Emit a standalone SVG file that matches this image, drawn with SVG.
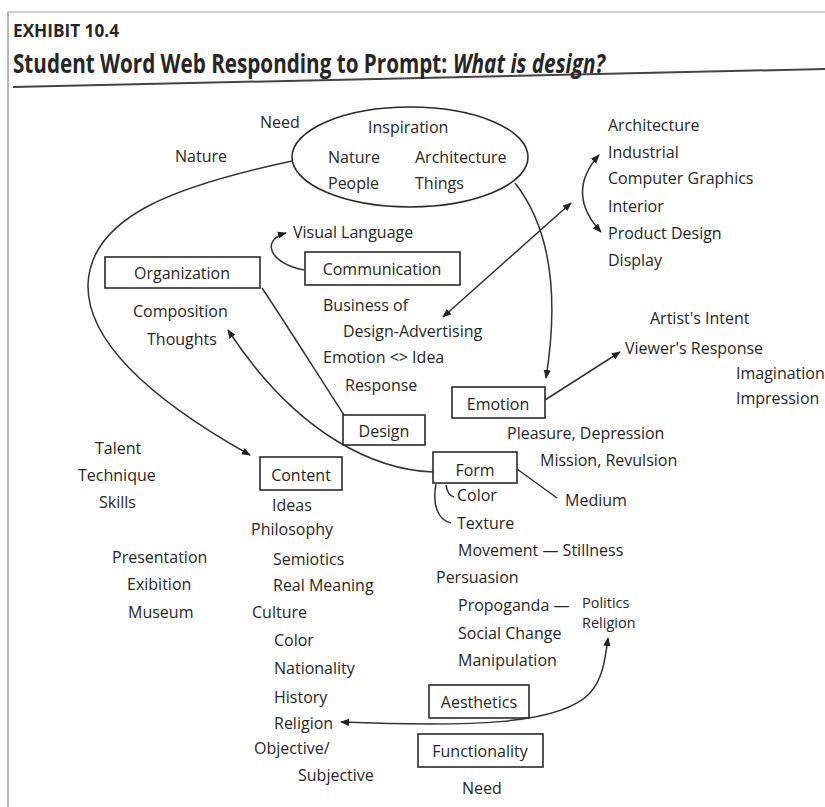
<svg xmlns="http://www.w3.org/2000/svg" width="825" height="807" viewBox="0 0 825 807">
<style>
text{font-family:"Open Sans","Noto Sans",sans-serif;font-size:16px;fill:#262626}
.b{fill:none;stroke:#2a2a2a;stroke-width:1.6}
.c{fill:none;stroke:#333;stroke-width:1.5}
.m{text-anchor:middle}
.t{font-weight:bold;font-size:26px}
</style>
<defs>
<marker id="ah" viewBox="0 0 10 10" refX="9" refY="5" markerWidth="9" markerHeight="9" markerUnits="userSpaceOnUse" orient="auto-start-reverse">
<path d="M0,1 L10,5 L0,9 Z" fill="#222"/>
</marker>
</defs>
<rect width="825" height="807" fill="#fff"/>
<g id="frame">
<line x1="7" y1="12" x2="825" y2="12" stroke="#d0d0d0" stroke-width="2"/>
<line x1="8" y1="12" x2="8" y2="807" stroke="#b8b8b8" stroke-width="2"/>
<line x1="13" y1="87" x2="825" y2="69" stroke="#444" stroke-width="2"/>
</g>
<g id="title">
<text x="13" y="37" style="font-weight:bold;font-size:17px" textLength="106" lengthAdjust="spacingAndGlyphs">EXHIBIT 10.4</text>
<text class="t" transform="matrix(0.816 0 0 1 13 73)" textLength="532" lengthAdjust="spacingAndGlyphs">Student Word Web Responding to Prompt:</text>
<text class="t" transform="matrix(0.8 0 0 1 453 73)" font-style="italic" textLength="190" lengthAdjust="spacingAndGlyphs">What is design?</text>
</g>
<g id="connectors">
<path class="c" d="M292,161 C180,185 90,215 88,285 C87,350 170,410 250,455" marker-end="url(#ah)"/>
<path class="c" d="M515,183 C548,225 560,290 546,378" marker-end="url(#ah)"/>
<path class="c" d="M443,317 L571,203" marker-start="url(#ah)" marker-end="url(#ah)"/>
<path class="c" d="M599,155 Q565,193 601,232" marker-start="url(#ah)" marker-end="url(#ah)"/>
<path class="c" d="M304,270 C270,264 260,240 286,233" marker-end="url(#ah)"/>
<path class="c" d="M262,288 C290,330 318,375 344,415"/>
<path class="c" d="M433,472 C380,470 300,440 228,330" marker-end="url(#ah)"/>
<path class="c" d="M545,400 L620,352" marker-end="url(#ah)"/>
<path class="c" d="M517,469 L557,498"/>
<path class="c" d="M446,485 C447,492 450,496 454,497"/>
<path class="c" d="M436,484 C432,505 438,520 451,523"/>
<path class="c" d="M341,722 C470,727 560,725 590,693 C603,678 605,660 608,638" marker-start="url(#ah)" marker-end="url(#ah)"/>
</g>
<g id="inspiration">
<ellipse class="b" cx="410" cy="157" rx="118" ry="50"/>
<text x="368" y="133">Inspiration</text>
<text x="328" y="163">Nature</text>
<text x="415" y="163">Architecture</text>
<text x="328" y="189">People</text>
<text x="415" y="189">Things</text>
</g>
<g id="need-nature">
<text x="260" y="128">Need</text>
<text x="175" y="162">Nature</text>
</g>
<g id="fields">
<text x="608" y="131">Architecture</text>
<text x="608" y="158">Industrial</text>
<text x="608" y="184">Computer Graphics</text>
<text x="608" y="212">Interior</text>
<text x="608" y="239">Product Design</text>
<text x="608" y="266">Display</text>
</g>
<g id="communication">
<rect class="b" x="305" y="252" width="155" height="33"/>
<text class="m" x="382" y="275">Communication</text>
<text x="293" y="238">Visual Language</text>
<text x="323" y="311">Business of</text>
<text x="343" y="337">Design-Advertising</text>
<text x="323" y="363">Emotion &lt;&gt; Idea</text>
<text x="345" y="391">Response</text>
</g>
<g id="organization">
<rect class="b" x="105" y="257" width="155" height="31"/>
<text class="m" x="182" y="279">Organization</text>
<text x="133" y="317">Composition</text>
<text x="147" y="345">Thoughts</text>
</g>
<g id="design">
<rect class="b" x="343" y="415" width="82" height="30"/>
<text class="m" x="384" y="437">Design</text>
</g>
<g id="emotion">
<rect class="b" x="452" y="387" width="93" height="31"/>
<text class="m" x="498" y="410">Emotion</text>
<text x="650" y="324">Artist's Intent</text>
<text x="625" y="354">Viewer's Response</text>
<text x="736" y="379">Imagination</text>
<text x="736" y="404">Impression</text>
<text x="507" y="439">Pleasure, Depression</text>
<text x="540" y="466">Mission, Revulsion</text>
</g>
<g id="form">
<rect class="b" x="433" y="452" width="84" height="31"/>
<text class="m" x="475" y="476">Form</text>
<text x="565" y="506">Medium</text>
<text x="457" y="501">Color</text>
<text x="457" y="529">Texture</text>
<text x="458" y="556">Movement — Stillness</text>
<text x="436" y="583">Persuasion</text>
<text x="458" y="611">Propoganda —</text>
<text x="582" y="608" style="font-size:14.5px">Politics</text>
<text x="582" y="628" style="font-size:14.5px">Religion</text>
<text x="458" y="639">Social Change</text>
<text x="458" y="666">Manipulation</text>
</g>
<g id="content">
<rect class="b" x="260" y="457" width="82" height="33"/>
<text class="m" x="301" y="481">Content</text>
<text x="272" y="511">Ideas</text>
<text x="251" y="535">Philosophy</text>
<text x="273" y="565">Semiotics</text>
<text x="273" y="591">Real Meaning</text>
<text x="252" y="618">Culture</text>
<text x="274" y="646">Color</text>
<text x="274" y="674">Nationality</text>
<text x="274" y="703">History</text>
<text x="274" y="729">Religion</text>
<text x="254" y="754">Objective/</text>
<text x="298" y="781">Subjective</text>
</g>
<g id="skills">
<text x="95" y="454">Talent</text>
<text x="78" y="481">Technique</text>
<text x="99" y="508">Skills</text>
<text x="112" y="563">Presentation</text>
<text x="127" y="590">Exibition</text>
<text x="128" y="618">Museum</text>
</g>
<g id="aesthetics">
<rect class="b" x="429" y="685" width="100" height="33"/>
<text class="m" x="479" y="708">Aesthetics</text>
</g>
<g id="functionality">
<rect class="b" x="418" y="734" width="125" height="33"/>
<text class="m" x="480" y="757">Functionality</text>
<text x="462" y="794">Need</text>
</g>
</svg>
